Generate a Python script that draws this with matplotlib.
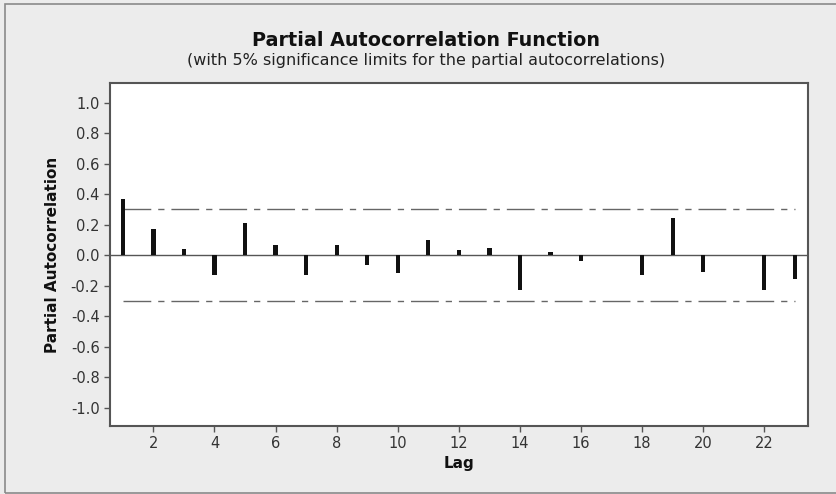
import matplotlib
matplotlib.use("Agg")
from matplotlib import pyplot as plt
from matplotlib.patches import Rectangle

# partial autocorrelation per lag
lags = list(range(1, 24))
pacf = [0.367, 0.172, 0.039, -0.134, 0.207, 0.063, -0.134, 0.063, -0.068, -0.118,
        0.098, 0.030, 0.046, -0.228, 0.020, -0.037, 0.003, -0.134, 0.240, -0.110,
        -0.003, -0.228, -0.157]
limit = 0.30
yticks = [-1.0, -0.8, -0.6, -0.4, -0.2, 0.0, 0.2, 0.4, 0.6, 0.8, 1.0]
xticks = [2, 4, 6, 8, 10, 12, 14, 16, 18, 20, 22]

plt.rcParams["font.family"] = ["DejaVu Sans"]

fig = plt.figure(figsize=(8.37, 4.94), dpi=100)
fig.patch.set_facecolor("#ececec")
# outer frame, right side runs off the image like in the reference
fig.patches.append(Rectangle((5 / 837, 1.5 / 494), 840 / 837, 488.5 / 494,
                             transform=fig.transFigure, fill=False,
                             edgecolor="#8a8a8a", linewidth=1.2, clip_on=False))

ax = fig.add_axes([110 / 837, 68 / 494, 698 / 837, 343 / 494])
ax.set_facecolor("white")

ax.axhline(0, color="#555555", linewidth=1.0, zorder=1)
dash = (0, (20, 5, 4.5, 5))
ax.plot([lags[0], lags[-1]], [limit, limit], color="#666666", linewidth=1.0, linestyle=dash)
ax.plot([lags[0], lags[-1]], [-limit, -limit], color="#666666", linewidth=1.0, linestyle=dash)
ax.bar(lags, pacf, width=0.14, color="#111111", zorder=2)

ax.set_xlim(0.58, 23.43)
ax.set_ylim(-1.121, 1.128)
ax.set_xticks(xticks)
ax.set_xticklabels([str(t) for t in xticks])
ax.set_yticks(yticks)
ax.set_yticklabels([f"{v:.1f}" for v in yticks])
ax.tick_params(axis="both", direction="out", length=4, width=1, color="#555555",
               labelcolor="#333333", labelsize=10.5)
for s in ax.spines.values():
    s.set_color("#555555")
    s.set_linewidth(1.5)

ax.set_xlabel("Lag", fontsize=11, fontweight="bold", color="#111111", labelpad=3)
ax.set_ylabel("Partial Autocorrelation", fontsize=11, fontweight="bold", color="#111111", labelpad=8)

fig.text(426 / 837, 1 - 40 / 494, "Partial Autocorrelation Function", ha="center", va="center",
         fontsize=13.8, fontweight="bold", color="#111111")
fig.text(426 / 837, 1 - 60 / 494, "(with 5% significance limits for the partial autocorrelations)",
         ha="center", va="center", fontsize=11.5, color="#222222")

fig.savefig("out.png", dpi=100, facecolor=fig.get_facecolor())
